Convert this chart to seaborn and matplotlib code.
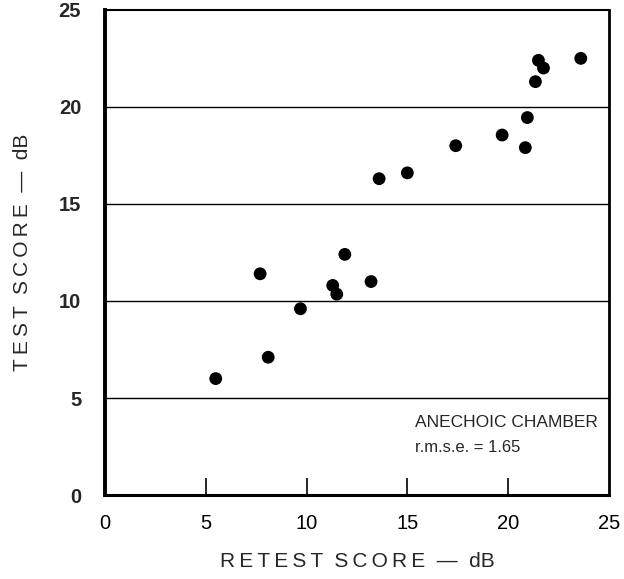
import pandas as pd
import seaborn as sns
import matplotlib.pyplot as plt

# datos
retest = [5.5, 8.1, 9.7, 7.7, 11.3, 11.5, 11.9, 13.2, 13.6, 15.0,
          17.4, 19.7, 20.85, 20.95, 21.35, 21.5, 21.75, 23.6]
test = [6.0, 7.1, 9.6, 11.4, 10.8, 10.35, 12.4, 11.0, 16.3, 16.6,
        18.0, 18.55, 17.9, 19.45, 21.3, 22.4, 22.0, 22.5]
x_ticks = [0, 5, 10, 15, 20, 25]
y_ticks = [0, 5, 10, 15, 20, 25]

df = pd.DataFrame({"retest": retest, "test": test})

sns.set_style("white")
plt.rcParams['font.family'] = ['Liberation Sans', 'DejaVu Sans']


def espaciar(s):
    # separa las letras con un espacio fino
    return "\u2009".join(s)


fig = plt.figure(figsize=(6.24, 5.79), dpi=100)
ax = fig.add_axes([0.168, 0.145, 0.808, 0.838])

# lineas horizontales
for yv in y_ticks[1:-1]:
    ax.axhline(yv, color="black", lw=1.0, zorder=1)

sns.scatterplot(data=df, x="retest", y="test", color="black", s=85,
                edgecolor="none", ax=ax, zorder=3)

ax.set_xlim(0, 25)
ax.set_ylim(0, 25)
ax.set_xticks(x_ticks)
ax.set_yticks(y_ticks)
ax.set_xticklabels([str(v) for v in x_ticks], fontsize=14.5)
ax.set_yticklabels([str(v) for v in y_ticks], fontsize=14.5, fontweight="bold")

# marcas hacia dentro solo en 5..20
ax.tick_params(axis="x", bottom=True, direction="in", length=12, width=1.2,
               pad=14, colors="black")
ax.tick_params(axis="y", left=False, length=0, pad=17)
for t in ax.xaxis.get_major_ticks():
    if t.get_loc() in (0, 25):
        t.tick1line.set_visible(False)

for side, w in [("left", 2.8), ("bottom", 2.2), ("right", 2.0), ("top", 1.5)]:
    ax.spines[side].set_linewidth(w)
    ax.spines[side].set_color("black")

ax.set_xlabel(espaciar("RETEST") + "  " + espaciar("SCORE") + "  —  dB",
              fontsize=15, labelpad=13)
ax.set_ylabel(espaciar("TEST") + "  " + espaciar("SCORE") + "  —  dB",
              fontsize=15, labelpad=19)

ax.text(15.4, 3.75, "ANECHOIC CHAMBER", fontsize=12.5, va="center", ha="left",
        stretch="condensed")
ax.text(15.4, 2.45, "r.m.s.e. = 1.65", fontsize=12, va="center", ha="left")

fig.savefig("out.png", dpi=100)
